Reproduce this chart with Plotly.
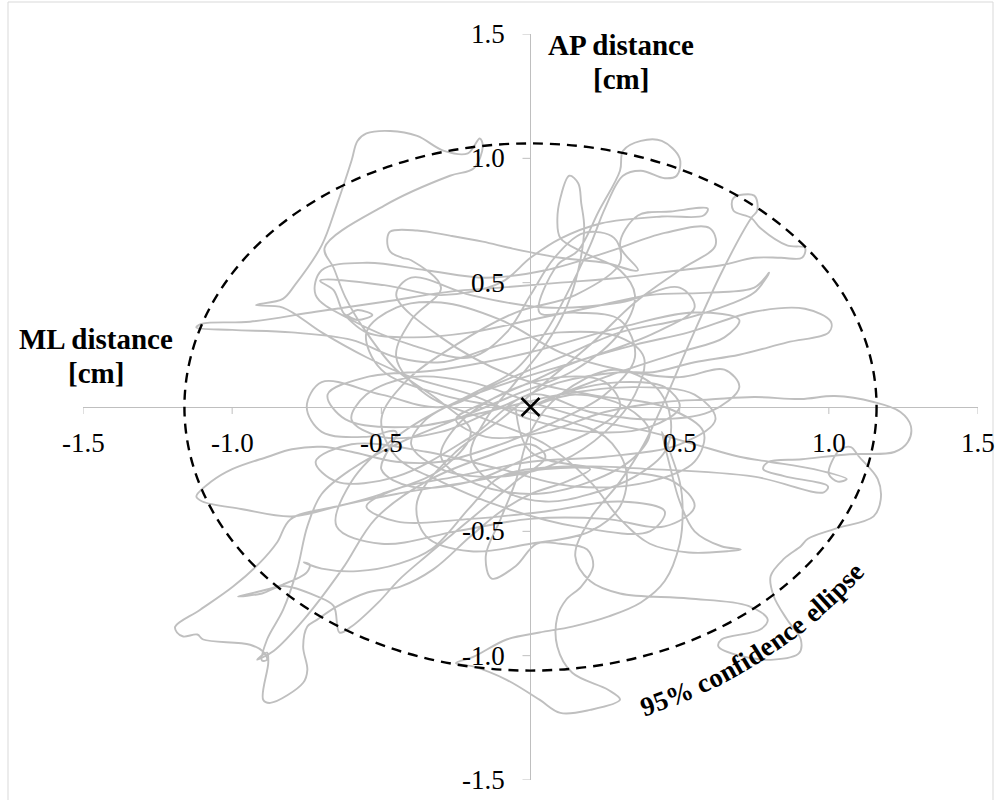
import math
import plotly.graph_objects as go

# ---------------- data (centre-of-pressure path, cm) ----------------
seg_start = [(0.00,0.00),(0.12,0.06),(0.30,0.10),(0.45,0.08),(0.50,0.00),(0.40,-0.08),(0.20,-0.10),(0.00,-0.05),
             (-0.20,0.05),(-0.40,0.12),(-0.55,0.20),(-0.70,0.30),(-0.83,0.40),(-0.92,0.41)]
seg_top_left = [(-0.83,0.435),(-0.79,0.49),(-0.70,0.65),(-0.65,0.81),(-0.60,0.99),(-0.58,1.07),(-0.55,1.10),(-0.47,1.11),
                (-0.38,1.09),(-0.29,1.03),(-0.21,1.02),(-0.17,1.08),(-0.16,1.05),(-0.19,0.96),(-0.27,0.93),(-0.49,0.81),
                (-0.69,0.64),(-0.66,0.56),(-0.62,0.44),(-0.55,0.30),(-0.45,0.15),(-0.30,0.02),(-0.20,-0.10),(-0.30,-0.25),
                (-0.50,-0.35),(-0.65,-0.40)]
seg_left_wedge = [(-0.80,-0.44),(-0.97,-0.41),(-1.10,-0.38),(-1.12,-0.36),(-1.07,-0.30),(-1.00,-0.25),(-0.88,-0.20),
                  (-0.80,-0.17),(-0.70,-0.16),(-0.60,-0.18),(-0.45,-0.22),(-0.30,-0.22),(-0.10,-0.15),(0.10,-0.05),
                  (0.25,0.05),(0.35,0.20),(0.30,0.35),(0.15,0.38),(0.03,0.38)]
seg_top_loop = [(0.09,0.57),(0.16,0.63),(0.23,0.79),(0.30,0.95),(0.31,1.03),(0.37,1.07),(0.44,1.07),(0.50,1.00),
                (0.49,0.93),(0.45,0.92),(0.37,0.95),(0.31,0.93),(0.25,0.80),(0.20,0.65),(0.12,0.45),(0.05,0.30),
                (-0.05,0.15),(-0.20,0.05),(-0.35,-0.05),(-0.40,-0.15),(-0.30,-0.25),(-0.10,-0.28),(0.10,-0.22),
                (0.25,-0.10),(0.35,0.05),(0.38,0.20),(0.30,0.28),(0.10,0.30),(-0.10,0.25),(-0.30,0.18),(-0.45,0.20)]
seg_left_spur = [(-0.60,0.27),(-0.80,0.30),(-1.00,0.31),(-1.12,0.32),(-1.10,0.335),(-0.94,0.343),(-0.72,0.383),
                 (-0.49,0.423),(-0.27,0.464),(-0.10,0.48),(0.10,0.50),(0.30,0.52),(0.50,0.55),(0.64,0.57),(0.75,0.60),
                 (0.84,0.60),(0.91,0.60),(0.92,0.64),(0.86,0.65),(0.77,0.72),(0.74,0.76),(0.68,0.79),(0.68,0.84),
                 (0.75,0.85),(0.76,0.79),(0.74,0.76),(0.64,0.54),(0.53,0.25),(0.44,0.00),(0.38,-0.15)]
seg_bottom_right = [(0.30,-0.30),(0.20,-0.45),(0.15,-0.60),(0.20,-0.70),(0.30,-0.75),(0.53,-0.77),(0.73,-0.80),
                    (0.795,-0.855),(0.77,-0.895),(0.64,-0.935),(0.63,-0.964),(0.70,-1.00),(0.815,-1.016),(0.90,-0.99),
                    (0.906,-0.935),(0.86,-0.855),(0.815,-0.76),(0.805,-0.68),(0.85,-0.61),(0.906,-0.56),(0.93,-0.53),
                    (1.02,-0.49),(1.15,-0.44),(1.174,-0.371),(1.164,-0.29),(1.10,-0.198),(1.074,-0.161),(1.04,-0.17),
                    (1.01,-0.22),(1.00,-0.27),(1.03,-0.30),(1.06,-0.29),(0.95,-0.25),(0.80,-0.22),(0.70,-0.20),
                    (0.55,-0.15),(0.40,-0.10),(0.20,-0.05),(0.00,0.02),(-0.20,0.10),(-0.40,0.12),(-0.55,0.05),
                    (-0.60,-0.05),(-0.50,-0.12),(-0.30,-0.10),(-0.10,0.00),(0.10,0.10),(0.30,0.14),(0.41,0.14)]
seg_right = [(0.55,0.18),(0.70,0.21),(0.86,0.26),(1.00,0.30),(1.007,0.343),(0.92,0.395),(0.75,0.383),(0.53,0.30),
             (0.35,0.25),(0.15,0.18),(0.00,0.10),(-0.15,0.02),(-0.25,-0.05),(-0.15,-0.12),(0.05,-0.10),(0.25,-0.02),
             (0.45,0.02),(0.60,0.03),(0.75,0.04),(0.906,0.032),(1.02,0.044),(1.15,0.02),(1.24,-0.02),(1.275,-0.077),
             (1.265,-0.141),(1.22,-0.181),(1.07,-0.19),(0.91,-0.21),(0.795,-0.222),(0.78,-0.25),(0.85,-0.278),
             (0.997,-0.319),(0.983,-0.343),(0.75,-0.28),(0.41,-0.25),(0.10,-0.24),(-0.10,-0.28)]
seg_bottom_left = [(-0.20,-0.40),(-0.33,-0.57),(-0.44,-0.63),(-0.58,-0.66),(-0.70,-0.65),(-0.76,-0.625),(-0.74,-0.633),
                   (-0.75,-0.665),(-0.83,-0.714),(-0.91,-0.742),(-0.98,-0.762),(-0.90,-0.75),(-0.83,-0.72),
                   (-0.715,-0.762),(-0.66,-0.80),(-0.64,-0.907),(-0.60,-0.883),(-0.51,-0.786),(-0.44,-0.694),
                   (-0.35,-0.60),(-0.25,-0.50),(-0.15,-0.40),(-0.05,-0.30),(0.05,-0.20),(0.00,-0.15),(-0.15,-0.20),
                   (-0.35,-0.30),(-0.52,-0.45),(-0.63,-0.65),(-0.76,-0.855),(-0.86,-0.98),(-0.916,-1.016),
                   (-0.883,-0.988),(-0.879,-1.028),(-0.896,-1.177),(-0.872,-1.19),(-0.762,-1.109),(-0.748,-1.057),
                   (-0.762,-0.964),(-0.748,-0.883),(-0.715,-0.855),(-0.648,-0.802),(-0.547,-0.746),(-0.436,-0.722),
                   (-0.326,-0.653),(-0.201,-0.520),(-0.10,-0.42),(0.00,-0.35),(0.12,-0.30),(0.20,-0.25),(0.05,-0.25),
                   (-0.20,-0.30),(-0.45,-0.35),(-0.65,-0.40)]
seg_far_left = [(-0.805,-0.452),(-0.849,-0.544),(-0.906,-0.625),(-0.997,-0.722),(-1.107,-0.815),(-1.191,-0.883),
                (-1.185,-0.907),(-1.164,-0.923),(-1.117,-0.915),(-1.097,-0.935),(-0.940,-0.956),(-0.896,-0.984),
                (-0.883,-1.016),(-0.90,-1.02),(-0.883,-0.935),(-0.829,-0.815),(-0.782,-0.653),(-0.748,-0.48),
                (-0.70,-0.35),(-0.60,-0.25),(-0.45,-0.15),(-0.25,-0.05),(-0.05,0.05),(0.15,0.15),(0.30,0.30),
                (0.35,0.45),(0.30,0.55),(0.18,0.62),(0.10,0.68)]
seg_hook = [(0.09,0.75),(0.10,0.84),(0.13,0.93),(0.16,0.90),(0.17,0.82),(0.18,0.72),(0.16,0.55),(0.12,0.40),
            (0.05,0.25),(-0.05,0.10),(-0.15,-0.05),(-0.20,-0.20),(-0.10,-0.33),(0.05,-0.38),(0.20,-0.35),
            (0.35,-0.28),(0.45,-0.18),(0.47,-0.05),(0.42,0.08),(0.28,0.15),(0.10,0.05),(0.00,-0.10),(-0.05,-0.30),
            (-0.10,-0.45),(-0.15,-0.60),(-0.13,-0.69),(-0.05,-0.64),(0.02,-0.55),(0.10,-0.55),(0.19,-0.573)]
seg_bottom_center = [(0.21,-0.641),(0.17,-0.722),(0.12,-0.774),(0.09,-0.843),(0.09,-0.964),(0.14,-1.069),
                     (0.26,-1.137),(0.30,-1.177),(0.20,-1.218),(0.10,-1.23),(0.03,-1.177),(-0.08,-1.097),
                     (-0.19,-1.044),(-0.25,-1.03),(-0.19,-1.004),(-0.08,-0.935),(0.03,-0.907),(0.14,-0.883),
                     (0.26,-0.843),(0.37,-0.786),(0.45,-0.70),(0.50,-0.55),(0.51,-0.41),(0.50,-0.30),(0.44,-0.10),
                     (0.47,-0.25),(0.50,-0.38),(0.55,-0.50),(0.64,-0.56),(0.705,-0.573),(0.66,-0.58),(0.53,-0.585),
                     (0.40,-0.55),(0.30,-0.45),(0.20,-0.30),(0.05,-0.15),(-0.15,-0.05),(-0.35,0.05),(-0.45,0.20),
                     (-0.40,0.35),(-0.30,0.48),(-0.40,0.59)]
seg_upper = [(-0.43,0.60),(-0.47,0.625),(-0.48,0.677),(-0.47,0.706),(-0.38,0.71),(-0.27,0.689),(-0.16,0.665),
             (-0.06,0.637),(0.10,0.60),(0.25,0.58),(0.36,0.55),(0.30,0.65),(0.36,0.77),(0.47,0.786),(0.594,0.798),
             (0.58,0.77),(0.44,0.766),(0.235,0.738),(0.10,0.677),(0.00,0.60),(-0.10,0.50),(-0.30,0.45),(-0.49,0.49),
             (-0.705,0.508),(-0.66,0.47),(-0.62,0.37),(-0.58,0.39),(-0.53,0.37),(-0.58,0.35),(-0.62,0.37),
             (-0.55,0.30),(-0.40,0.28),(-0.20,0.30),(0.00,0.35),(0.20,0.40),(0.40,0.45),(0.60,0.46),(0.75,0.48),
             (0.80,0.54),(0.75,0.46),(0.66,0.41),(0.50,0.35),(0.30,0.30),(0.10,0.20),(-0.10,0.10)]
seg_end = [(-0.30,0.00),(-0.50,0.05),(-0.70,0.10),(-0.75,0.00),(-0.70,-0.10),(-0.55,-0.12),(-0.45,-0.10),
           (-0.50,-0.25),(-0.40,-0.32),(-0.20,-0.30),(0.00,-0.20),(0.20,-0.10),(0.30,0.00),(0.25,0.10),(0.10,0.12),
           (-0.10,0.05),(-0.25,-0.08),(-0.30,-0.20),(-0.20,-0.30),(0.00,-0.35),(0.20,-0.30),(0.35,-0.20),
           (0.40,-0.10),(0.32,0.00),(0.15,0.05),(0.02,0.01)]
seg_center_tangle = [(0.25,0.12),(0.50,0.22),(0.65,0.28),(0.70,0.35),(0.55,0.38),(0.30,0.32),(0.00,0.22),
                     (-0.30,0.15),(-0.55,0.12),(-0.68,0.05),(-0.62,-0.05),(-0.40,-0.08),(-0.15,-0.02),(0.10,0.05),
                     (0.35,0.08),(0.55,0.05),(0.62,-0.05),(0.50,-0.15),(0.25,-0.20),(0.00,-0.22),(-0.25,-0.28),
                     (-0.45,-0.33),(-0.55,-0.40),(-0.45,-0.46),(-0.20,-0.45),(0.05,-0.42),(0.30,-0.38),(0.45,-0.42),
                     (0.40,-0.50),(0.15,-0.48),(-0.10,-0.40),(-0.30,-0.30),(-0.45,-0.20),(-0.50,-0.05),(-0.42,0.10),
                     (-0.25,0.25),(-0.05,0.38),(0.15,0.45),(0.30,0.58),(0.28,0.68),(0.18,0.70),(0.08,0.60),
                     (0.00,0.45),(-0.08,0.30),(-0.20,0.20),(-0.40,0.25),(-0.60,0.35),(-0.72,0.45),(-0.70,0.55),
                     (-0.55,0.58),(-0.35,0.55),(-0.15,0.52),(0.05,0.55),(0.25,0.62),(0.45,0.70),(0.60,0.72),
                     (0.62,0.65),(0.50,0.55),(0.35,0.42),(0.20,0.25),(0.05,0.10),(-0.10,-0.05),(-0.25,-0.18),
                     (-0.38,-0.38),(-0.35,-0.52),(-0.20,-0.58),(0.00,-0.55),(0.20,-0.50),(0.30,-0.40),(0.32,-0.25),
                     (0.25,-0.12),(0.10,-0.05),(-0.10,0.00),(-0.30,0.05),(-0.50,0.15),(-0.55,0.30),(-0.45,0.40),
                     (-0.30,0.42),(-0.10,0.35),(0.10,0.22),(0.30,0.15),(0.50,0.12),(0.65,0.15),(0.70,0.08),
                     (0.60,-0.02),(0.40,-0.05),(0.20,-0.02),(0.00,0.05)]
seg_extra = [(-0.20,-0.12),(-0.45,-0.28),(-0.65,-0.30),(-0.72,-0.22),(-0.60,-0.15),(-0.35,-0.18),(-0.10,-0.25),
             (0.15,-0.32),(0.40,-0.30),(0.55,-0.22),(0.58,-0.10),(0.45,0.00),(0.20,0.05),(-0.05,0.12),(-0.30,0.28),
             (-0.45,0.45),(-0.40,0.52),(-0.20,0.45),(0.05,0.40),(0.30,0.42),(0.50,0.48),(0.55,0.40),(0.42,0.30),
             (0.20,0.20),(-0.02,0.12),(-0.25,0.02),(-0.45,-0.12),(-0.60,-0.30),(-0.65,-0.48),(-0.50,-0.55),
             (-0.25,-0.50),(0.00,-0.45),(0.25,-0.45),(0.45,-0.48),(0.55,-0.40),(0.48,-0.30),(0.25,-0.25),
             (0.00,-0.18),(-0.05,0.00)]

path_segments = [seg_start, seg_top_left, seg_left_wedge, seg_top_loop, seg_left_spur, seg_bottom_right,
                 seg_right, seg_bottom_left, seg_far_left, seg_hook, seg_bottom_center, seg_upper, seg_end,
                 seg_center_tangle, seg_extra]

ellipse_semi_ml = 1.16   # cm
ellipse_semi_ap = 1.06   # cm
mean_point = (0.0, 0.0)

x_ticks = [-1.5, -1.0, -0.5, 0.5, 1.0, 1.5]
y_ticks = [1.5, 1.0, 0.5, -0.5, -1.0, -1.5]
x_title_lines = ["ML distance", "[cm]"]
y_title_lines = ["AP distance", "[cm]"]
ellipse_label = "95% confidence ellipse"

# ---------------- layout geometry ----------------
W, H = 996, 800
M_L, M_R, M_T, M_B = 83, 18, 34, 20
PW, PH = W - M_L - M_R, H - M_T - M_B
XR, YR = (-1.5, 1.5), (-1.5, 1.5)

def px_to_data(px, py):
    x = XR[0] + (px - M_L) / PW * (XR[1] - XR[0])
    y = YR[1] - (py - M_T) / PH * (YR[1] - YR[0])
    return x, y

def px_to_paper(px, py):
    return (px - M_L) / PW, (H - M_B - py) / PH

ml = [p[0] for seg in path_segments for p in seg]
ap = [p[1] for seg in path_segments for p in seg]

SERIF = "Liberation Serif"
GRAY = "#bfbfbf"

fig = go.Figure()
fig.add_trace(go.Scatter(x=ml, y=ap, mode="lines",
                         line=dict(color=GRAY, width=1.9, shape="spline", smoothing=1.0),
                         hoverinfo="skip"))
fig.add_trace(go.Scatter(x=[mean_point[0]], y=[mean_point[1]], mode="markers",
                         marker=dict(symbol="x-thin", size=18, line=dict(color="black", width=2.5))))

shapes = []
shapes.append(dict(type="circle", xref="x", yref="y",
                   x0=mean_point[0] - ellipse_semi_ml, x1=mean_point[0] + ellipse_semi_ml,
                   y0=mean_point[1] - ellipse_semi_ap, y1=mean_point[1] + ellipse_semi_ap,
                   line=dict(color="black", width=2.4, dash="10px,7px"), layer="above"))
for t in x_ticks:
    shapes.append(dict(type="line", xref="x", yref="y", x0=t, x1=t, ysizemode="pixel", yanchor=0,
                       y0=0, y1=-7, line=dict(color=GRAY, width=1)))
for t in y_ticks:
    shapes.append(dict(type="line", xref="x", yref="y", y0=t, y1=t, xsizemode="pixel", xanchor=0,
                       x0=-8, x1=0, line=dict(color=GRAY, width=1)))
fx0, fy0 = px_to_paper(8, 803)
fx1, fy1 = px_to_paper(993, 2)
shapes.append(dict(type="rect", xref="paper", yref="paper", x0=fx0, x1=fx1, y0=fy0, y1=fy1,
                   line=dict(color="#d9d9d9", width=1)))

annotations = []
tick_font = dict(family=SERIF, size=27, color="black")
for t in x_ticks:
    annotations.append(dict(x=t, y=0, xref="x", yref="y", text=f"{t:.1f}", showarrow=False,
                            xanchor="center", yanchor="middle", yshift=-36, font=tick_font))
for t in y_ticks:
    annotations.append(dict(x=0, y=t, xref="x", yref="y", text=f"{t:.1f}", showarrow=False,
                            xanchor="right", yanchor="middle", xshift=-24, font=tick_font))

title_font = dict(family=SERIF, size=29, color="black")
for txt, (px, py) in zip(x_title_lines, [(96, 339), (96, 373)]):
    ax_, ay_ = px_to_paper(px, py)
    annotations.append(dict(x=ax_, y=ay_, xref="paper", yref="paper", text=f"<b>{txt}</b>",
                            showarrow=False, xanchor="center", yanchor="middle", font=title_font))
for txt, (px, py) in zip(y_title_lines, [(621, 45), (621, 79)]):
    ax_, ay_ = px_to_paper(px, py)
    annotations.append(dict(x=ax_, y=ay_, xref="paper", yref="paper", text=f"<b>{txt}</b>",
                            showarrow=False, xanchor="center", yanchor="middle", font=title_font))

# curved label along the ellipse (one annotation per glyph)
char_w = {'9': .5, '5': .5, '%': 1.0, ' ': .25, 'c': .444, 'o': .5, 'n': .556, 'f': .333, 'i': .278,
          'd': .556, 'e': .444, 'l': .278, 'p': .556, 's': .389}
fs = 27
start_px = (648, 706)
phi0, phi1 = math.radians(-19), math.radians(-47)
ws = [char_w.get(c, .5) * fs for c in ellipse_label]
centers = []
acc = 0
for w in ws:
    centers.append(acc + w / 2)
    acc += w
s0 = centers[0]
L = centers[-1] - s0
kappa = (phi1 - phi0) / L
for c, sc in zip(ellipse_label, centers):
    s = sc - s0
    phi = phi0 + kappa * s
    px = start_px[0] + (math.sin(phi) - math.sin(phi0)) / kappa
    py = start_px[1] - (math.cos(phi) - math.cos(phi0)) / kappa
    if c == ' ':
        continue
    dx, dy = px_to_data(px, py)
    annotations.append(dict(x=dx, y=dy, xref="x", yref="y", text=f"<b>{c}</b>", showarrow=False,
                            xanchor="center", yanchor="middle", textangle=math.degrees(phi),
                            font=dict(family=SERIF, size=fs, color="black")))

axis_common = dict(showgrid=False, zeroline=True, zerolinecolor=GRAY, zerolinewidth=1,
                   showticklabels=False, ticks="", showline=False, fixedrange=True)
fig.update_layout(
    width=W, height=H, margin=dict(l=M_L, r=M_R, t=M_T, b=M_B),
    paper_bgcolor="white", plot_bgcolor="white", showlegend=False,
    xaxis=dict(range=list(XR), **axis_common),
    yaxis=dict(range=list(YR), **axis_common),
    shapes=shapes, annotations=annotations,
)
fig.write_html("out.html", config={"displayModeBar": False},
               post_script="document.body.style.margin='0';document.body.style.overflow='hidden';")
